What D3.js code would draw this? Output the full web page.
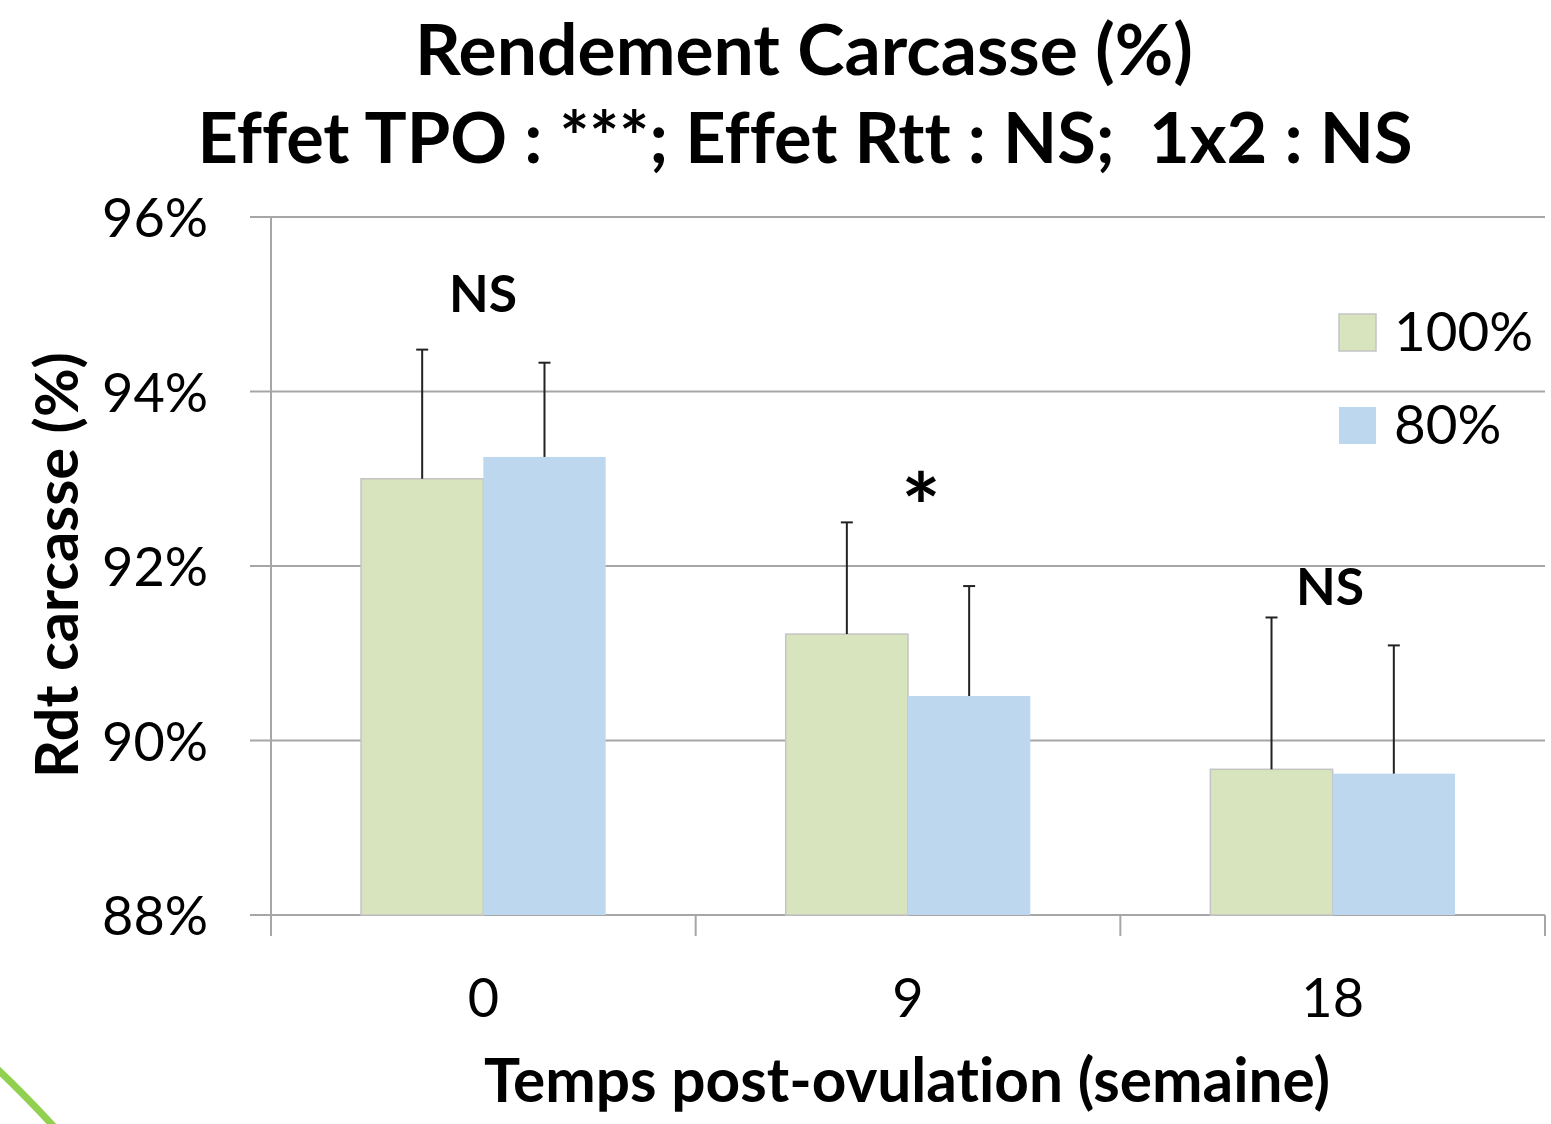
<!DOCTYPE html>
<html>
<head>
<meta charset="utf-8">
<script src="https://cdn.jsdelivr.net/npm/d3@7"></script>
<style>
  html, body { margin: 0; padding: 0; background: #fff; }
  svg { display: block; }
  text { font-family: Lato, "Open Sans", sans-serif; fill: #000; font-variant-ligatures: none; font-feature-settings: "liga" 0, "dlig" 0; }
</style>
</head>
<body>
<script>
// ---- Data ----
const categories = ["0", "9", "18"];
const seriesNames = ["100%", "80%"];
const values100 = [93.00, 91.22, 89.67];
const errors100 = [1.48, 1.28, 1.74];
const values80 = [93.25, 90.51, 89.62];
const errors80 = [1.08, 1.26, 1.47];
const significance = ["NS", "*", "NS"];
const yTicks = [88, 90, 92, 94, 96];
const titleLines = ["Rendement Carcasse (%)", "Effet TPO : ***; Effet Rtt : NS;  1x2 : NS"];
const xTitle = "Temps post-ovulation (semaine)";
const yTitle = "Rdt carcasse (%)";

const colors = { "100%": "#D7E4BD", "80%": "#BDD7EE" };
const strokes = { "100%": "#C4C4C4", "80%": "none" };

const W = 1551, H = 1124;
const svg = d3.select("body").append("svg").attr("width", W).attr("height", H);

const plot = { left: 271, right: 1545, top: 217, bottom: 915 };

const y = d3.scaleLinear().domain([88, 96]).range([plot.bottom, plot.top]);
const x0 = d3.scaleBand().domain(categories).range([plot.left, plot.right]).padding(0);
const bw = x0.bandwidth();
const x1 = d3.scaleBand().domain(seriesNames).range([bw * 0.212, bw * 0.788]).padding(0);

// fit text width helper
function fit(sel, target) {
  const node = sel.node();
  const base = parseFloat(sel.attr("font-size"));
  const w = node.getComputedTextLength();
  sel.attr("font-size", (base * target / w).toFixed(2));
  return sel;
}

// decorative arc bottom-left
svg.append("path")
  .attr("d", "M -6,1066 Q 22,1092 57,1130")
  .attr("fill", "none").attr("stroke", "#92D050").attr("stroke-width", 7);

// gridlines
svg.append("g").selectAll("line").data(yTicks).join("line")
  .attr("x1", 250).attr("x2", plot.right)
  .attr("y1", d => y(d)).attr("y2", d => y(d))
  .attr("stroke", "#A6A6A6").attr("stroke-width", 2);

// y axis line
svg.append("line").attr("x1", plot.left).attr("x2", plot.left)
  .attr("y1", plot.top).attr("y2", 936)
  .attr("stroke", "#A6A6A6").attr("stroke-width", 2);

// x ticks
const xTickPos = categories.map(c => x0(c)).concat([plot.right]);
svg.append("g").selectAll("line").data(xTickPos).join("line")
  .attr("x1", d => d).attr("x2", d => d)
  .attr("y1", plot.bottom).attr("y2", 936)
  .attr("stroke", "#A6A6A6").attr("stroke-width", 2);

// y tick labels
const yLab = svg.append("g").selectAll("text").data(yTicks).join("text")
  .attr("x", 208).attr("y", d => y(d) + 20)
  .attr("text-anchor", "end").attr("font-size", 60)
  .text(d => d + "%");
let tickFs = 60;
{
  const t = yLab.filter(d => d === 96);
  const w = t.node().getComputedTextLength();
  tickFs = 60 * 106 / w;
  yLab.attr("font-size", tickFs.toFixed(2));
}

// bars
const rows = categories.map((c, i) => ({
  cat: c,
  items: [
    { s: "100%", v: values100[i], e: errors100[i] },
    { s: "80%", v: values80[i], e: errors80[i] }
  ]
}));

const groups = svg.append("g").selectAll("g").data(rows).join("g")
  .attr("transform", d => `translate(${x0(d.cat)},0)`);

groups.selectAll("rect").data(d => d.items).join("rect")
  .attr("x", d => x1(d.s)).attr("width", x1.bandwidth())
  .attr("y", d => y(d.v)).attr("height", d => y(88) - y(d.v))
  .attr("fill", d => colors[d.s])
  .attr("stroke", d => strokes[d.s]).attr("stroke-width", 1.5);

// error bars
groups.selectAll("g.err").data(d => d.items).join("g").attr("class", "err")
  .each(function (d) {
    const g = d3.select(this);
    const cx = x1(d.s) + x1.bandwidth() / 2;
    g.append("line").attr("x1", cx).attr("x2", cx)
      .attr("y1", y(d.v)).attr("y2", y(d.v + d.e))
      .attr("stroke", "#222").attr("stroke-width", 2);
    g.append("line").attr("x1", cx - 6).attr("x2", cx + 6)
      .attr("y1", y(d.v + d.e)).attr("y2", y(d.v + d.e))
      .attr("stroke", "#222").attr("stroke-width", 2);
  });

// x tick labels
svg.append("g").selectAll("text").data(categories).join("text")
  .attr("x", d => x0(d) + bw / 2).attr("y", 1017)
  .attr("text-anchor", "middle").attr("font-size", tickFs.toFixed(2))
  .text(d => d);

// significance annotations
const sigY = [312, 541, 605];
const sigX = [483, 921, 1330];
const sig = svg.append("g").selectAll("text").data(significance).join("text")
  .attr("x", (d, i) => sigX[i]).attr("y", (d, i) => sigY[i])
  .attr("text-anchor", "middle").attr("font-weight", "bold").attr("font-size", 50)
  .text(d => d);
{
  const t = sig.filter((d, i) => i === 0);
  const w = t.node().getComputedTextLength();
  const fs = 50 * 68 / w;
  sig.attr("font-size", d => (d === "*" ? fs * 1.8 : fs).toFixed(2));
}

// legend
const legY = [314, 407];
const leg = svg.append("g").selectAll("g").data(seriesNames).join("g");
leg.append("rect")
  .attr("x", 1339).attr("y", (d, i) => legY[i]).attr("width", 37).attr("height", 37)
  .attr("fill", d => colors[d]).attr("stroke", d => strokes[d]).attr("stroke-width", 1.5);
const legT = leg.append("text")
  .attr("x", 1394).attr("y", (d, i) => legY[i] + 37)
  .attr("font-size", 60).text(d => d);
{
  const t = legT.filter((d, i) => i === 0);
  const w = t.node().getComputedTextLength();
  legT.attr("font-size", (60 * 139 / w).toFixed(2));
}

// titles
fit(svg.append("text").attr("x", 804).attr("y", 75).attr("text-anchor", "middle")
  .attr("font-weight", "bold").attr("font-size", 60).text(titleLines[0]), 778);
fit(svg.append("text").attr("x", 805).attr("y", 163).attr("text-anchor", "middle")
  .attr("font-weight", "bold").attr("font-size", 60)
  .style("white-space", "pre").text(titleLines[1]), 1215);

// axis titles
fit(svg.append("text").attr("x", 907).attr("y", 1102).attr("text-anchor", "middle")
  .attr("font-weight", "bold").attr("font-size", 50).text(xTitle), 846);
fit(svg.append("text").attr("transform", "translate(78,565) rotate(-90)")
  .attr("text-anchor", "middle")
  .attr("font-weight", "bold").attr("font-size", 50).text(yTitle), 426);
</script>
</body>
</html>
